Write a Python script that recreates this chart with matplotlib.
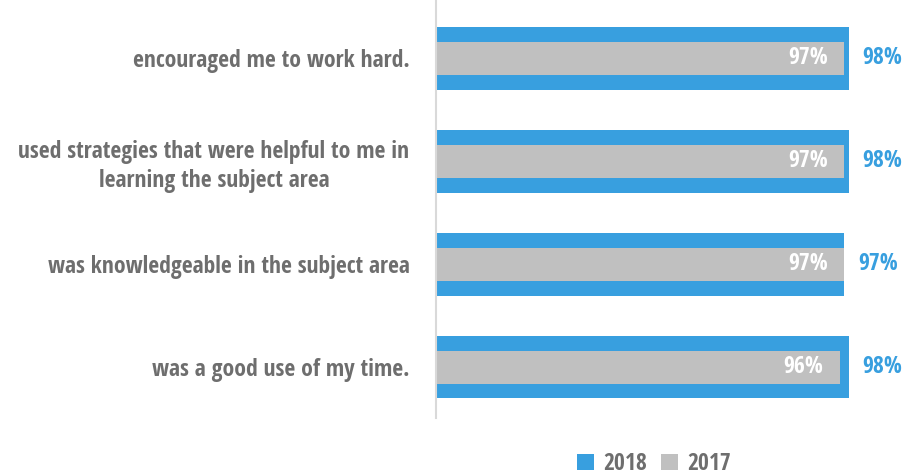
import matplotlib.pyplot as plt

categories = ['encouraged me to work hard.',
              'used strategies that were helpful to me in\nlearning the subject area',
              'was knowledgeable in the subject area',
              'was a good use of my time.']
vals_2018 = [98, 98, 97, 98]
vals_2017 = [97, 97, 97, 96]

blue = '#389fdf'
grey = '#c0c0c0'
txt = '#6e6e6e'
font = ['Open Sans Condensed', 'DejaVu Sans']

fig = plt.figure(figsize=(9.05, 4.76), dpi=100)
ax = fig.add_axes([436 / 905, 58 / 476, 421 / 905, 418 / 476])

ypos = list(range(len(categories)))
ax.barh(ypos, vals_2018, height=0.61, color=blue, label='2018')
ax.barh(ypos, vals_2017, height=0.32, color=grey, label='2017')

for y, v18, v17 in zip(ypos, vals_2018, vals_2017):
    ax.annotate(f'{v17}%', (v17, y), xytext=(-12, 0), textcoords='offset points',
                ha='right', va='center', color='white', fontsize=17,
                fontweight='bold', family=font)
    ax.annotate(f'{v18}%', (v18, y), xytext=(10, 0), textcoords='offset points',
                ha='left', va='center', color=blue, fontsize=17,
                fontweight='bold', family=font, annotation_clip=False)

ax.set_xlim(0, 100)
ax.set_ylim(3.495, -0.568)
ax.set_yticks(ypos)
ax.set_yticklabels(categories, fontsize=17, fontweight='bold', color=txt,
                   family=font, multialignment='center', linespacing=1.25)
ax.tick_params(axis='y', length=0, pad=19)
ax.set_xticks([])
for s in ['top', 'right', 'bottom']:
    ax.spines[s].set_visible(False)
ax.spines['left'].set_color('#d9d9d9')
ax.spines['left'].set_linewidth(1.5)

leg = fig.legend(loc='lower center', bbox_to_anchor=(0.723, -0.045), ncol=2,
                 frameon=False, handlelength=0.7, handleheight=0.7,
                 handletextpad=0.4, columnspacing=0.6,
                 prop={'family': font, 'weight': 'bold', 'size': 17})
for t in leg.get_texts():
    t.set_color(txt)

fig.savefig('out.png', dpi=100)
